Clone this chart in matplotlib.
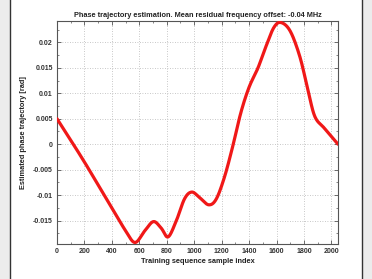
import numpy as np
import matplotlib
matplotlib.use("Agg")
import matplotlib.pyplot as plt
from matplotlib.patches import Rectangle
from matplotlib.ticker import MultipleLocator

# Data
sample_index = [0, 100, 200, 300, 400, 500, 569, 640, 703, 760, 810, 870, 930, 983,
                1040, 1105, 1160, 1220, 1280, 1340, 1400, 1465, 1520, 1580, 1632,
                1700, 1771, 1830, 1880, 1950, 2048]
phase = [0.005, 0.0008, -0.0035, -0.0080, -0.0125, -0.0170, -0.0193, -0.0170, -0.0152,
         -0.0165, -0.0182, -0.0150, -0.0107, -0.0094, -0.0105, -0.0119, -0.0108,
         -0.0065, -0.0005, 0.0062, 0.0112, 0.0150, 0.0190, 0.0229, 0.0239,
         0.0222, 0.0171, 0.0105, 0.0054, 0.0031, 0.0]
x_ticks = [0, 200, 400, 600, 800, 1000, 1200, 1400, 1600, 1800, 2000]
y_ticks = [-0.015, -0.01, -0.005, 0, 0.005, 0.01, 0.015, 0.02]
y_tick_labels = ["-0.015", "-0.01", "-0.005", "0", "0.005", "0.01", "0.015", "0.02"]

# smooth curve (Catmull-Rom) through the read points
def catmull(xs, ys, n=20):
    xs = np.asarray(xs, float); ys = np.asarray(ys, float)
    px = np.concatenate([[2*xs[0]-xs[1]], xs, [2*xs[-1]-xs[-2]]])
    py = np.concatenate([[2*ys[0]-ys[1]], ys, [2*ys[-1]-ys[-2]]])
    ox, oy = [], []
    for i in range(1, len(px)-2):
        t = np.linspace(0, 1, n, endpoint=False)
        for arr, out in ((px, ox), (py, oy)):
            p0, p1, p2, p3 = arr[i-1], arr[i], arr[i+1], arr[i+2]
            out.extend(0.5*((2*p1) + (-p0+p2)*t + (2*p0-5*p1+4*p2-p3)*t**2 + (-p0+3*p1-3*p2+p3)*t**3))
    ox.append(xs[-1]); oy.append(ys[-1])
    return np.array(ox), np.array(oy)

sx, sy = catmull(sample_index, phase)

plt.rcParams['font.family'] = ['Liberation Sans', 'DejaVu Sans']

fig = plt.figure(figsize=(3.72, 2.79), dpi=100)
fig.patch.set_facecolor("#ececec")
frame = Rectangle((10/372, -0.01), (362-10)/372, 1.02, transform=fig.transFigure,
                  facecolor="white", edgecolor="#333333", linewidth=1.0, zorder=-10)
fig.add_artist(frame)

ax = fig.add_axes([57/372, 35/279, 281/372, 223/279])
ax.set_zorder(1)
ax.set_facecolor("white")
ax.plot(sx, sy, color="#f01818", linewidth=2.3, solid_capstyle="round", zorder=3)

ax.set_xlim(0, 2048)
ax.set_ylim(-0.0196, 0.0242)
ax.set_xticks(x_ticks)
ax.set_yticks(y_ticks)
ax.set_yticklabels(y_tick_labels)
ax.xaxis.set_minor_locator(MultipleLocator(100))
ax.yaxis.set_minor_locator(MultipleLocator(0.0025))
ax.tick_params(which="both", direction="in", top=True, right=True, labelsize=5.0,
               color="#555555", pad=3)
ax.tick_params(which="major", length=3, width=0.6)
ax.tick_params(which="minor", length=1.6, width=0.5)
for lab in ax.get_xticklabels() + ax.get_yticklabels():
    lab.set_fontweight("bold")
    lab.set_color("#333333")
ax.grid(True, which="major", linestyle=(0, (1, 2)), color="#b5b5b5", linewidth=0.6)
for s in ax.spines.values():
    s.set_color("#555555")
    s.set_linewidth(0.8)

ax.set_title("Phase trajectory estimation. Mean residual frequency offset: -0.04 MHz",
             fontsize=5.3, fontweight="bold", pad=3, color="#222222")
ax.set_xlabel("Training sequence sample index", fontsize=5.3, fontweight="bold",
              labelpad=2, color="#222222")
ax.set_ylabel("Estimated phase trajectory [rad]", fontsize=5.3, fontweight="bold",
              labelpad=4, color="#222222")

fig.savefig("out.png", dpi=100, facecolor=fig.get_facecolor())
